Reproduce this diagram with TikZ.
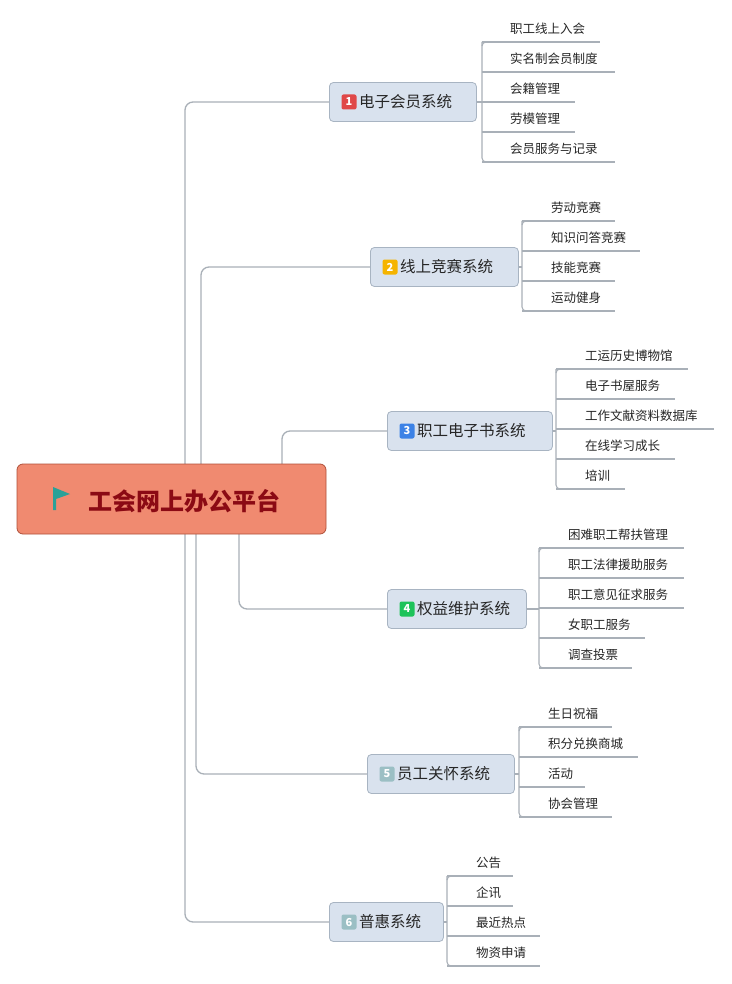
\documentclass[tikz,border=0pt]{standalone}
\usepackage{fontspec}
\setmainfont{Noto Sans CJK SC}
\definecolor{lineC}{HTML}{A9B0B8}
\definecolor{boxF}{HTML}{D9E2EE}
\definecolor{boxB}{HTML}{A8B4C2}
\definecolor{rootB}{HTML}{B0503A}
\definecolor{rootF}{RGB}{240,138,112}
\definecolor{rootT}{HTML}{8B0A14}
\definecolor{flagC}{HTML}{2AA198}
\definecolor{c1}{HTML}{E04848}\definecolor{c2}{HTML}{F5B400}\definecolor{c3}{HTML}{3C82E6}
\definecolor{c4}{HTML}{1EC35A}\definecolor{c5}{HTML}{9BBFC4}
\newcommand{\leafgroup}[5]{%
  \foreach \t/\e [count=\i from 0] in {#5} {
    \pgfmathsetmacro{\yy}{#4+30*\i}
    \node[leaf] (#1l\i) at (#3,\yy-1) {\t};
    \coordinate (#1u\i) at (\e,\yy+12);
    \draw[ln,line width=1.1pt] (#2,\yy+12) -- (#1u\i);
  }
}
\newcommand{\bracket}[4]{%
  \coordinate (#1x) at (#2,0);
  \draw[ln,line width=1.1pt,rounded corners=4pt] (#2,#3+4) -- (#2,#3) -- (#2+8,#3);
  \draw[ln,line width=1.1pt,rounded corners=4pt] (#2,#3) -- (#2,#4) -- (#2+8,#4);
  \draw[ln,line width=1.1pt] (#1.east) -- (#1.east -| #1x);}
\begin{document}
\begin{tikzpicture}[x=1pt,y=-1pt,
  ln/.style={draw=lineC,line width=1.3pt},
  sub/.style={draw=boxB,fill=boxF,rounded corners=4pt,minimum height=39pt,line width=0.8pt,inner xsep=0pt},
  leaf/.style={anchor=west,font=\fontsize{12.5}{12.5}\selectfont,inner sep=0pt,text=black!85},
  badge/.style={fill=#1,rounded corners=2pt,text=white,font=\bfseries\fontsize{11}{11}\selectfont,minimum size=15pt,inner sep=0pt}]
\useasboundingbox (0,0) rectangle (731,984);
\fill[white] (0,0) rectangle (731,984);
\coordinate (r1) at (185,464); \coordinate (r2) at (201,464); \coordinate (r3) at (282,464);
\coordinate (r4) at (239,534); \coordinate (r5) at (196,534); \coordinate (r6) at (185,534);
\draw[ln,rounded corners=8pt] (r1) -- (185,102) -- (329,102);
\draw[ln,rounded corners=8pt] (r2) -- (201,267) -- (370,267);
\draw[ln,rounded corners=8pt] (r3) -- (282,431) -- (387,431);
\draw[ln,rounded corners=8pt] (r4) -- (239,609) -- (387,609);
\draw[ln,rounded corners=8pt] (r5) -- (196,774) -- (367,774);
\draw[ln,rounded corners=8pt] (r6) -- (185,922) -- (329,922);
\node[draw=rootB,fill=rootF,rounded corners=6pt,minimum width=309pt,minimum height=70pt,line width=0.8pt] (root) at (171.5,499) {};
\node[font=\bfseries\fontsize{24}{24}\selectfont,text=rootT] (roott) at (184,501) {工会网上办公平台};
\fill[flagC] (53,487) -- (70,494) -- (56,499) -- (56,510) -- (53,510) -- cycle;
\node[sub,minimum width=147pt,anchor=west] (b1) at (329,102) {};
\node[sub,minimum width=148pt,anchor=west] (b2) at (370,267) {};
\node[sub,minimum width=165pt,anchor=west] (b3) at (387,431) {};
\node[sub,minimum width=139pt,anchor=west] (b4) at (387,609) {};
\node[sub,minimum width=147pt,anchor=west] (b5) at (367,774) {};
\node[sub,minimum width=114pt,anchor=west] (b6) at (329,922) {};
\node[badge=c1] (g1) at (349,102) {1}; \node[leaf,font=\fontsize{15.5}{15.5}\selectfont] (t1) at (359,102) {电子会员系统};
\node[badge=c2] (g2) at (390,267) {2}; \node[leaf,font=\fontsize{15.5}{15.5}\selectfont] (t2) at (400,267) {线上竞赛系统};
\node[badge=c3] (g3) at (407,431) {3}; \node[leaf,font=\fontsize{15.5}{15.5}\selectfont] (t3) at (417,431) {职工电子书系统};
\node[badge=c4] (g4) at (407,609) {4}; \node[leaf,font=\fontsize{15.5}{15.5}\selectfont] (t4) at (417,609) {权益维护系统};
\node[badge=c5] (g5) at (387,774) {5}; \node[leaf,font=\fontsize{15.5}{15.5}\selectfont] (t5) at (397,774) {员工关怀系统};
\node[badge=c5] (g6) at (349,922) {6}; \node[leaf,font=\fontsize{15.5}{15.5}\selectfont] (t6) at (359,922) {普惠系统};
\leafgroup{b1}{482}{510}{30}{职工线上入会/600,实名制会员制度/615,会籍管理/575,劳模管理/575,会员服务与记录/615}
\bracket{b1}{482}{42}{162}
\leafgroup{b2}{522}{551}{209}{劳动竞赛/615,知识问答竞赛/640,技能竞赛/615,运动健身/615}
\bracket{b2}{522}{221}{311}
\leafgroup{b3}{556}{585}{357}{工运历史博物馆/688,电子书屋服务/675,工作文献资料数据库/714,在线学习成长/675,培训/625}
\bracket{b3}{556}{369}{489}
\leafgroup{b4}{539}{568}{536}{困难职工帮扶管理/684,职工法律援助服务/684,职工意见征求服务/684,女职工服务/645,调查投票/632}
\bracket{b4}{539}{548}{668}
\leafgroup{b5}{519}{548}{715}{生日祝福/612,积分兑换商城/638,活动/585,协会管理/612}
\bracket{b5}{519}{727}{817}
\leafgroup{b6}{447}{476}{864}{公告/513,企讯/513,最近热点/540,物资申请/540}
\bracket{b6}{447}{876}{966}
\end{tikzpicture}
\end{document}
